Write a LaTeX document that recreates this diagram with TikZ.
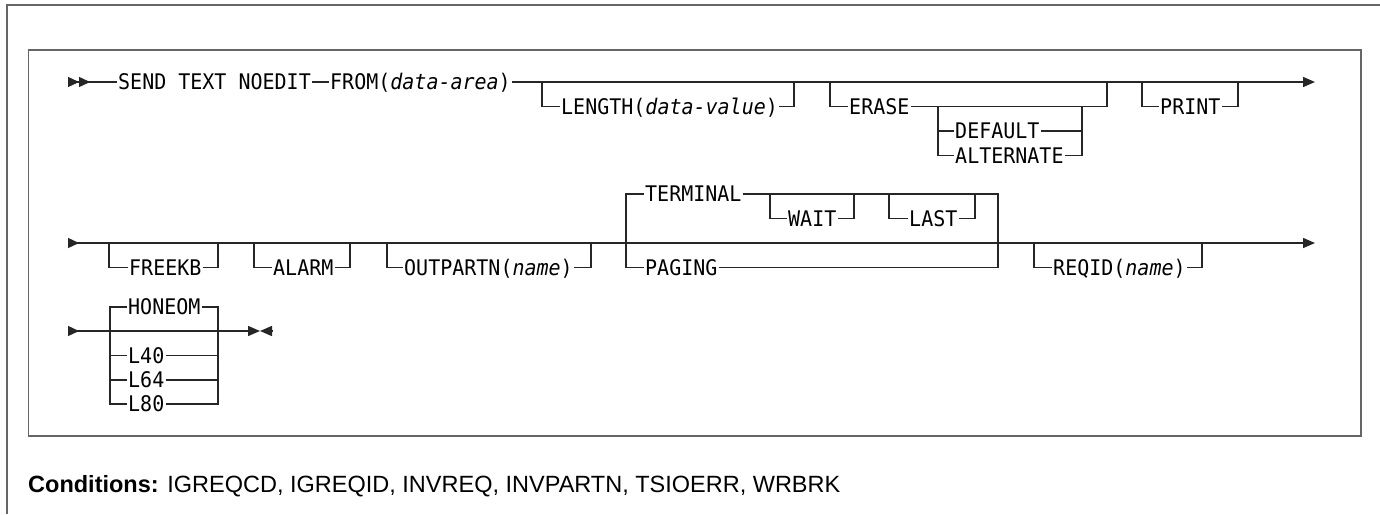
\documentclass[tikz,border=0pt]{standalone}
\usepackage{fontspec}
\setsansfont{Liberation Sans}
\newfontfamily\synfont[FakeStretch=0.93]{DejaVu Sans Mono}
\usetikzlibrary{positioning,arrows.meta}

\begin{document}
\begin{tikzpicture}[x=1pt, y=-1pt,
    kw/.style={anchor=west, inner sep=1pt, text height=15.7pt, text depth=0pt,
              font=\synfont\fontsize{21.5}{26}\selectfont},
    ln/.style={line width=1.4pt, draw=black!85},
    fr/.style={line width=1.8pt, draw=black!60},
    a/.style={ln, -{Triangle[length=12pt, width=10pt]}},
    sa/.style={ln, {Triangle[reversed, length=11pt, width=10pt]}-{Triangle[length=12pt, width=10pt]}},
    ss/.style={ln, {Triangle[reversed, length=11pt, width=10pt] Triangle[reversed, length=11pt, width=10pt]}-}
]
    \useasboundingbox (0,0) rectangle (1380,514);
    \draw[fr] (1380,5) -| (7,514);
    \draw[fr] (28.5,50) rectangle (1361,436);

    % first line
    \coordinate (r1s) at (68,82);
    \coordinate (r1e) at (1315,82);
    \node[kw] (send) at (117,82) {SEND TEXT NOEDIT};
    \node[kw] (from) at (329,82) {FROM(\textit{data-area})};
    \node[kw] (length) at (560,106.5) {LENGTH(\textit{data-value})};
    \node[kw] (erase) at (848,106.5) {ERASE};
    \node[kw] (default) at (954,131) {DEFAULT};
    \node[kw] (alternate) at (954,155.5) {ALTERNATE};
    \node[kw] (print) at (1159,106.5) {PRINT};
    \coordinate (l1) at (542,82);  \coordinate (l2) at (794,82);
    \coordinate (e1) at (830,82);  \coordinate (e2) at (1107,82);
    \coordinate (d1) at (938,106.5); \coordinate (d2) at (1082,106.5);
    \coordinate (p1) at (1142,82); \coordinate (p2) at (1238,82);
    \draw[ss] (r1s) -- (send.west);
    \draw[ln] (send.east) -- (from.west);
    \draw[a] (from.east) -- (r1e);
    \draw[ln] (l1) |- (length.west);
    \draw[ln] (length.east) -| (l2);
    \draw[ln] (e1) |- (erase.west);
    \draw[ln] (erase.east) -| (e2);
    \draw[ln] (d1) |- (default.west);
    \draw[ln] (d1) |- (alternate.west);
    \draw[ln] (default.east) -| (d2);
    \draw[ln] (alternate.east) -| (d2);
    \draw[ln] (p1) |- (print.west);
    \draw[ln] (print.east) -| (p2);

    % second line
    \coordinate (r2s) at (68,243);
    \coordinate (r2e) at (1315,243);
    \node[kw] (freekb) at (128,267.5) {FREEKB};
    \node[kw] (alarm) at (272,267.5) {ALARM};
    \node[kw] (outpartn) at (403,267.5) {OUTPARTN(\textit{name})};
    \node[kw] (terminal) at (644,194) {TERMINAL};
    \node[kw] (wait) at (787,218.5) {WAIT};
    \node[kw] (last) at (908,218.5) {LAST};
    \node[kw] (paging) at (644,267.5) {PAGING};
    \node[kw] (reqid) at (1052,267.5) {REQID(\textit{name})};
    \coordinate (f1) at (109,243);  \coordinate (f2) at (218,243);
    \coordinate (a1) at (254,243);  \coordinate (a2) at (350,243);
    \coordinate (o1) at (387,243);  \coordinate (o2) at (591,243);
    \coordinate (t1) at (626,243);  \coordinate (t2) at (998,243);
    \coordinate (w1) at (770,194);  \coordinate (w2) at (854,194);
    \coordinate (la1) at (889,194); \coordinate (la2) at (975,194);
    \coordinate (q1) at (1034,243); \coordinate (q2) at (1202,243);
    \draw[sa] (r2s) -- (r2e);
    \draw[ln] (f1) |- (freekb.west);
    \draw[ln] (freekb.east) -| (f2);
    \draw[ln] (a1) |- (alarm.west);
    \draw[ln] (alarm.east) -| (a2);
    \draw[ln] (o1) |- (outpartn.west);
    \draw[ln] (outpartn.east) -| (o2);
    \draw[ln] (t1) |- (terminal.west);
    \draw[ln] (t1) |- (paging.west);
    \draw[ln] (terminal.east) -| (t2);
    \draw[ln] (paging.east) -| (t2);
    \draw[ln] (w1) |- (wait.west);
    \draw[ln] (wait.east) -| (w2);
    \draw[ln] (la1) |- (last.west);
    \draw[ln] (last.east) -| (la2);
    \draw[ln] (q1) |- (reqid.west);
    \draw[ln] (reqid.east) -| (q2);

    % third line
    \coordinate (r3s) at (68,331);
    \coordinate (r3e) at (260,331);
    \coordinate (r3x) at (272,331);
    \node[kw] (honeom) at (127,307) {HONEOM};
    \node[kw] (l40) at (127,355.5) {L40};
    \node[kw] (l64) at (127,380) {L64};
    \node[kw] (l80) at (127,404) {L80};
    \coordinate (h1) at (110,331); \coordinate (h2) at (218,331);
    \draw[sa] (r3s) -- (r3e);
    \draw[a] (r3x) -- (r3e);
    \draw[ln] (h1) |- (honeom.west);
    \draw[ln] (honeom.east) -| (h2);
    \foreach \n in {l40,l64,l80} {
        \draw[ln] (h1) |- (\n.west);
        \draw[ln] (\n.east) -| (h2);
    }

    \node[anchor=base west, inner sep=0pt, font=\sffamily\fontsize{23.5}{28}\selectfont]
        (cond) at (28,492) {\textbf{Conditions:} IGREQCD, IGREQID, INVREQ, INVPARTN, TSIOERR, WRBRK};
\end{tikzpicture}
\end{document}
